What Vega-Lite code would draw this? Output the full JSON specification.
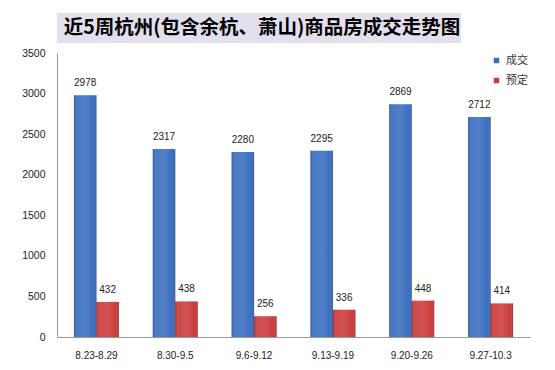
{
  "$schema": "https://vega.github.io/schema/vega-lite/v6.json",
  "background": "white",
  "padding": {"left": 21, "top": 13, "right": 25, "bottom": 4},
  "config": {"view": {"stroke": null}, "font": "Liberation Sans"},
  "bounds": "flush",
  "spacing": 10,
  "resolve": {"legend": {"color": "independent"}},
  "vconcat": [
    {
      "width": 404,
      "height": 30,
      "view": {"fill": "#e4dfec", "stroke": null},
      "data": {"values": [{"title": "近5周杭州(包含余杭、萧山)商品房成交走势图"}]},
      "mark": {"type": "text", "font": "Noto Sans CJK SC", "fontSize": 19.5, "fontWeight": "bold", "color": "#000000", "dx": 3},
      "encoding": {"text": {"field": "title", "type": "nominal"}}
    },
    {
      "width": 473,
      "height": 284,
      "data": {
        "values": [
          {"week": "8.23-8.29", "type": "成交", "value": 2978},
          {"week": "8.23-8.29", "type": "预定", "value": 432},
          {"week": "8.30-9.5", "type": "成交", "value": 2317},
          {"week": "8.30-9.5", "type": "预定", "value": 438},
          {"week": "9.6-9.12", "type": "成交", "value": 2280},
          {"week": "9.6-9.12", "type": "预定", "value": 256},
          {"week": "9.13-9.19", "type": "成交", "value": 2295},
          {"week": "9.13-9.19", "type": "预定", "value": 336},
          {"week": "9.20-9.26", "type": "成交", "value": 2869},
          {"week": "9.20-9.26", "type": "预定", "value": 448},
          {"week": "9.27-10.3", "type": "成交", "value": 2712},
          {"week": "9.27-10.3", "type": "预定", "value": 414}
        ]
      },
      "encoding": {
        "x": {
          "field": "week", "type": "nominal", "sort": null,
          "scale": {"paddingInner": 0.43, "paddingOuter": 0.215},
          "axis": {"title": null, "labelAngle": 0, "ticks": false, "labelPadding": 13, "domainColor": "#9a9a9a", "labelFontSize": 10, "labelColor": "#222222", "grid": false}
        },
        "xOffset": {"field": "type", "type": "nominal", "sort": ["成交", "预定"]},
        "y": {
          "field": "value", "type": "quantitative",
          "scale": {"domain": [0, 3500], "nice": false},
          "axis": {"title": null, "format": "d", "values": [0, 500, 1000, 1500, 2000, 2500, 3000, 3500], "ticks": false, "labelPadding": 12, "domainColor": "#9a9a9a", "labelFontSize": 10.5, "labelColor": "#222222", "grid": false}
        }
      },
      "layer": [
        {
          "mark": {"type": "bar"},
          "encoding": {
            "color": {
              "field": "type", "type": "nominal", "sort": ["成交", "预定"],
              "scale": {"domain": ["成交", "预定"], "range": ["#3a6ebf", "#cc3b3b"]},
              "legend": {"title": null, "orient": "top-right", "offset": 2, "symbolType": "square", "symbolSize": 30, "labelFontSize": 11, "labelColor": "#333333", "labelFont": "Noto Sans CJK SC", "rowPadding": 8, "labelOffset": 4, "padding": 0}
            }
          }
        },
        {
          "mark": {
            "type": "bar",
            "color": {
              "gradient": "linear", "x1": 0, "x2": 1, "y1": 0, "y2": 0,
              "stops": [
                {"offset": 0, "color": "rgba(0,0,0,0.28)"},
                {"offset": 0.12, "color": "rgba(255,255,255,0.08)"},
                {"offset": 0.5, "color": "rgba(255,255,255,0.12)"},
                {"offset": 0.88, "color": "rgba(255,255,255,0.0)"},
                {"offset": 1, "color": "rgba(0,0,0,0.32)"}
              ]
            }
          }
        },
        {
          "mark": {"type": "text", "baseline": "middle", "dy": -12, "fontSize": 10, "color": "#222222"},
          "encoding": {"text": {"field": "value", "type": "quantitative"}}
        }
      ]
    }
  ]
}
